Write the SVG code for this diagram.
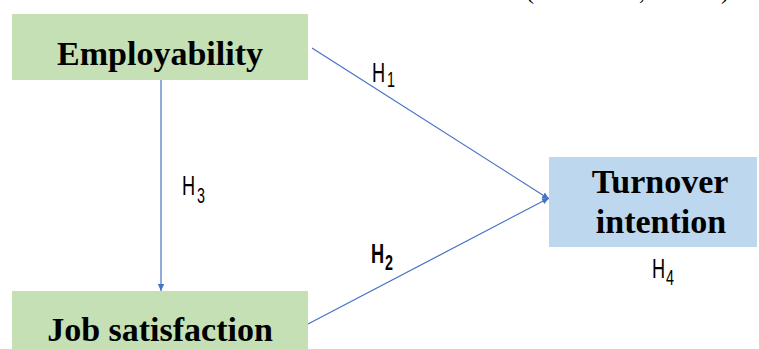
<svg xmlns="http://www.w3.org/2000/svg" width="759" height="349" viewBox="0 0 759 349">
  <style>
    .green { fill: #C5E0B4; }
    .blue { fill: #BDD7EE; }
    .node-text { font-family: "Liberation Serif", "Times New Roman", serif; font-weight: bold; font-size: 34px; fill: #000; text-anchor: middle; }
    .conn { stroke: #4472C4; stroke-width: 1.2; fill: none; }
    .lab { font-family: "Liberation Sans", Arial, sans-serif; fill: #000; }
    .top { font-family: "Liberation Serif", "Times New Roman", serif; font-size: 24px; fill: #000; }
  </style>
  <defs>
    <marker id="arr" markerWidth="8" markerHeight="8" refX="7" refY="4" orient="auto" markerUnits="userSpaceOnUse">
      <path d="M0,0.8 L7,4 L0,7.2 Z" fill="#4472C4"/>
    </marker>
  </defs>
  <rect width="759" height="349" fill="#fff"/>
  <g id="top-fragment">
    <text class="top" x="526" y="-1">(</text>
    <text class="top" x="639" y="-1">,</text>
    <text class="top" x="721" y="-1">)</text>
  </g>
  <g id="connectors">
    <line class="conn" x1="161" y1="80" x2="161" y2="291" marker-end="url(#arr)"/>
    <line class="conn" x1="312" y1="48" x2="549" y2="199" marker-end="url(#arr)"/>
    <line class="conn" x1="308" y1="324" x2="549" y2="198" marker-end="url(#arr)"/>
  </g>
  <g id="node-employability">
    <rect class="green" x="12" y="14" width="296" height="66"/>
    <text class="node-text" x="160" y="65">Employability</text>
  </g>
  <g id="node-job-satisfaction">
    <rect class="green" x="12" y="291" width="296" height="62"/>
    <text class="node-text" x="160" y="341">Job satisfaction</text>
  </g>
  <g id="node-turnover">
    <rect class="blue" x="549" y="157" width="208" height="90"/>
    <text class="node-text" x="660" y="193">Turnover</text>
    <text class="node-text" x="661" y="233">intention</text>
  </g>
  <g id="labels">
    <g transform="translate(372,82) scale(0.65,1)"><text class="lab" font-size="28">H</text></g>
    <g transform="translate(387,87) scale(0.65,1)"><text class="lab" font-size="22">1</text></g>
    <g transform="translate(371,263) scale(0.65,1)"><text class="lab" font-size="28" font-weight="bold">H</text></g>
    <g transform="translate(385,270) scale(0.65,1)"><text class="lab" font-size="22" font-weight="bold">2</text></g>
    <g transform="translate(182,195) scale(0.65,1)"><text class="lab" font-size="28">H</text></g>
    <g transform="translate(197,203) scale(0.65,1)"><text class="lab" font-size="22">3</text></g>
    <g transform="translate(652,278) scale(0.65,1)"><text class="lab" font-size="28">H</text></g>
    <g transform="translate(666,285) scale(0.65,1)"><text class="lab" font-size="22">4</text></g>
  </g>
</svg>
